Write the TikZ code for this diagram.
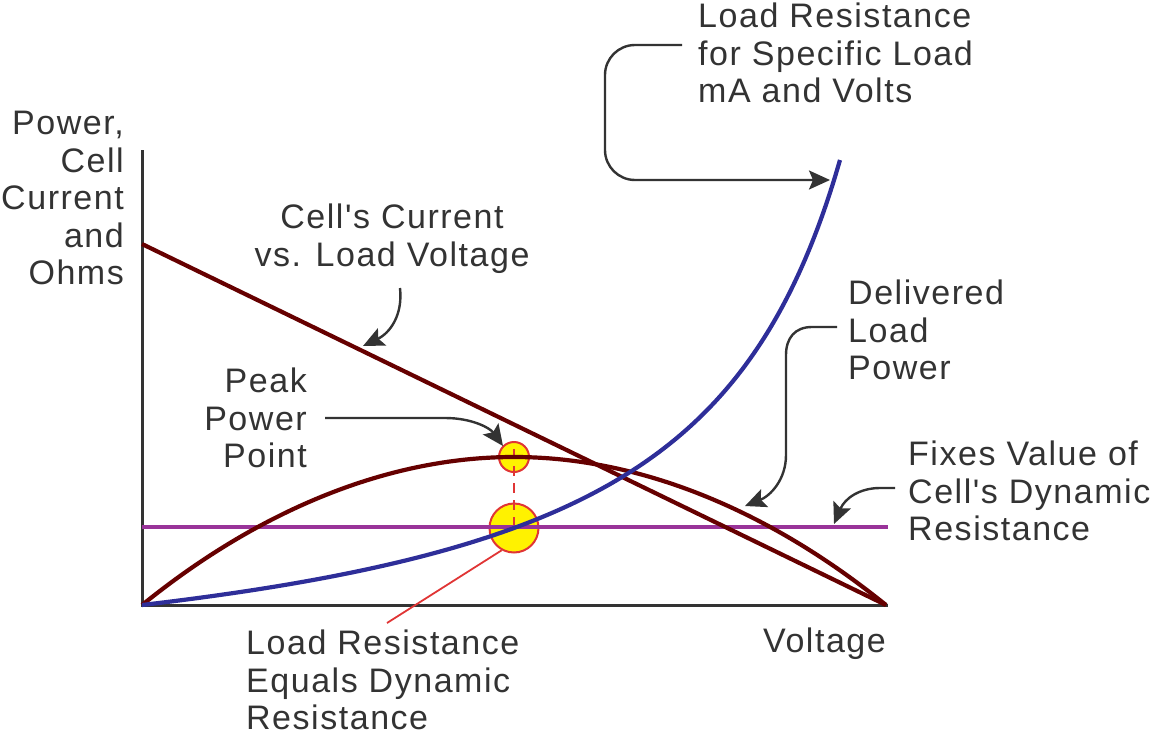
\documentclass[tikz,border=0pt]{standalone}
\usepackage{fontspec}
\newfontfamily\lbl{Liberation Sans}[LetterSpace=4.5]
\usetikzlibrary{arrows.meta}
\definecolor{txt}{HTML}{333333}
\definecolor{cur}{HTML}{660000}
\definecolor{res}{HTML}{2E2E99}
\definecolor{dyn}{HTML}{993399}
\definecolor{markred}{HTML}{E03535}
\begin{document}
\begin{tikzpicture}[x=1pt,y=-1pt,
  lab/.style={font=\lbl\fontsize{34}{37.5}\selectfont, text=txt, inner sep=0pt},
  ptr/.style={draw=txt, line width=2.4pt, -{Stealth[length=21pt,width=19pt,inset=4pt]}},
  axis/.style={draw=txt, line width=3pt},
  curve/.style={line width=4.2pt},
  spot/.style={circle, draw=markred, fill=yellow, line width=2pt, inner sep=0pt}]
\useasboundingbox (0,0) rectangle (1154,736);
% labels
\node[lab, anchor=north west, align=left] (lr) at (698,3) {Load Resistance\\for Specific Load\\mA and Volts};
\node[lab, anchor=north east, align=right] (ylab) at (124,111) {Power,\\Cell\\Current\\and\\Ohms};
\node[lab, anchor=north, align=center] (cc) at (392,204) {Cell's Current\\vs. Load Voltage};
\node[lab, anchor=north west, align=left] (dp) at (848,280) {Delivered\\Load\\Power};
\node[lab, anchor=north east, align=right] (pp) at (307,368) {Peak\\Power\\Point};
\node[lab, anchor=north west, align=left] (fv) at (908,441) {Fixes Value of\\Cell's Dynamic\\Resistance};
\node[lab, anchor=north west] (volt) at (763,628) {Voltage};
\node[lab, anchor=north west, align=left] (eqlab) at (246,630) {Load Resistance\\Equals Dynamic\\Resistance};
% spots
\node[spot, minimum size=30pt] (pk) at (514,457) {};
\node[spot, minimum size=49pt] (eq) at (514,528) {};
\draw[markred, line width=2pt, dash pattern=on 10pt off 7pt] (514,449) -- (eq.center);
% axes
\coordinate (o) at (142,605);
\draw[axis] (142,150) -- (o) -- (888,605);
% curves
\draw[dyn, line width=3.6pt] (142,527) -- (888,527);
\draw[cur, curve] (142,244) -- (886,605);
\draw[cur, curve] (o) parabola bend (514,457) (886,605);
\draw[res, curve] plot[domain=0:698, samples=120, smooth] ({142+\x}, {605-99.9*(\x/(854.7-\x))});
% pointer for equality
\coordinate (eqend) at (387,623);
\draw[markred, line width=1.8pt] (eq.241) -- (eqend);
% arrows
\coordinate (lrs) at (682,45);
\coordinate (lrt) at (830,180);
\draw[ptr, rounded corners=30pt] (lrs) -- (605,45) -- (605,180) -- (lrt);
\coordinate (ccs) at (400,288);
\coordinate (cct) at (363,346);
\draw[ptr] (ccs) .. controls (403,315) and (390,333) .. (cct);
\coordinate (dps) at (837,327);
\coordinate (dpt) at (745,506);
\draw[ptr] (dps) -- (812,327) .. controls (795,327) and (786,338) .. (786,355) -- (786,455) .. controls (786,480) and (770,496) .. (dpt);
\coordinate (fvs) at (895,488);
\coordinate (fvt) at (834,524);
\draw[ptr] (fvs) -- (880,488) .. controls (860,488) and (845,498) .. (fvt);
\coordinate (pps) at (325,418);
\coordinate (ppt) at (503,446);
\draw[ptr] (pps) -- (445,418) .. controls (472,418) and (490,428) .. (ppt);
\end{tikzpicture}
\end{document}
